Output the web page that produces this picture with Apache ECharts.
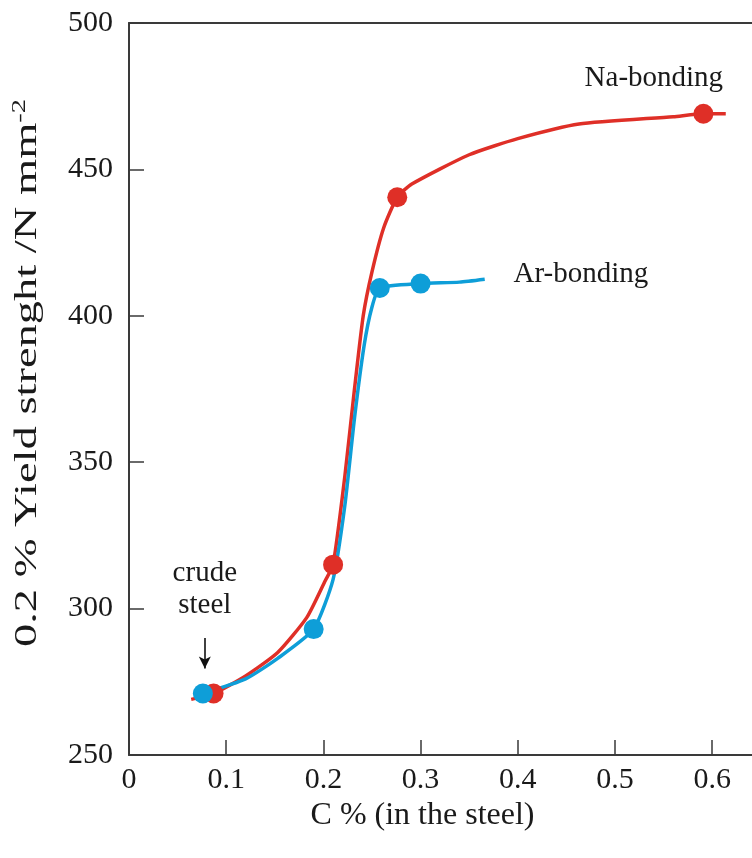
<!DOCTYPE html>
<html>
<head>
<meta charset="utf-8">
<script src="https://cdn.jsdelivr.net/npm/echarts@6/dist/echarts.min.js"></script>
<style>
  html, body { margin: 0; padding: 0; background: #fff; }
  #main { width: 752px; height: 858px; }
</style>
</head>
<body>
<div id="main"></div>
<script>
// Na-bonding curve (red)
const naCurve = [
  [0.064, 269], [0.087, 271], [0.12, 277], [0.153, 285], [0.183, 297],
  [0.202, 309.6], [0.21, 315], [0.222, 345], [0.232, 375], [0.241, 400],
  [0.25, 415], [0.262, 430], [0.276, 440.5], [0.291, 445], [0.35, 455],
  [0.40, 460.5], [0.463, 465.5], [0.56, 468], [0.591, 469], [0.614, 469]
];
const naPoints = [[0.087, 271], [0.21, 315], [0.276, 440.5], [0.591, 469]];

// Ar-bonding curve (blue)
const arCurve = [
  [0.076, 271], [0.12, 276], [0.153, 283], [0.19, 293], [0.21, 310],
  [0.222, 335], [0.232, 365], [0.242, 390], [0.25, 403], [0.258, 409.5],
  [0.30, 411], [0.34, 411.5], [0.366, 412.5]
];
const arPoints = [[0.076, 271], [0.19, 293], [0.258, 409.5], [0.30, 411]];

// annotation anchors (data coords)
const naLabelAt = [0.54, 481];
const arLabelAt = [0.465, 414];
const crudeLabelAt = [0.078, 306.5];
const crudeArrow = [[0.078, 290], [0.078, 279.5]];

const xTicks = [0, 0.1, 0.2, 0.3, 0.4, 0.5, 0.6];

const RED = "#DF2F27";
const BLUE = "#0E9ED8";
const FONT = "Liberation Serif";
const TXT = "#1a1a1a";

const myChart = echarts.init(document.getElementById("main"));

const option = {
  animation: false,
  backgroundColor: "#fff",
  grid: { left: 129, right: 0, top: 23, bottom: 103 },
  // y title is stretched along its length in the original, so draw it as graphic text
  graphic: [
    {
      type: "text",
      x: 28,
      y: 373,
      rotation: Math.PI / 2,
      scaleX: 1.5,
      style: {
        text: "0.2 % Yield strenght /N mm{sup|-2}",
        font: "31px 'Liberation Serif'",
        fill: TXT,
        align: "center",
        verticalAlign: "middle",
        rich: {
          sup: { fontFamily: FONT, fontSize: 19, fill: TXT, padding: [0, 0, 16, 0] }
        }
      }
    }
  ],
  xAxis: [
    {
      type: "value",
      min: 0,
      max: 0.641,
      interval: 0.1,
      splitLine: { show: false },
      axisLine: { lineStyle: { color: "#3a3a3a", width: 2 } },
      axisTick: {
        inside: true, length: 15, customValues: xTicks,
        lineStyle: { color: "#3a3a3a", width: 1.5 }
      },
      axisLabel: {
        fontFamily: FONT, fontSize: 30, color: TXT, margin: 10,
        customValues: xTicks
      },
      name: "C % (in the steel)",
      nameLocation: "middle",
      nameGap: 34,
      nameTextStyle: { fontFamily: FONT, fontSize: 32, color: TXT, padding: [0, 36, 0, 0] }
    },
    {
      type: "value",
      position: "top",
      min: 0,
      max: 0.641,
      axisLine: { show: true, onZero: false, lineStyle: { color: "#3a3a3a", width: 2 } },
      axisTick: { show: false },
      axisLabel: { show: false },
      splitLine: { show: false }
    }
  ],
  yAxis: {
    type: "value",
    min: 250,
    max: 500,
    interval: 50,
    splitLine: { show: false },
    axisLine: { show: true, lineStyle: { color: "#3a3a3a", width: 2 } },
    axisTick: { show: true, inside: true, length: 15, lineStyle: { color: "#3a3a3a", width: 1.5 } },
    axisLabel: { fontFamily: FONT, fontSize: 30, color: TXT, margin: 16 }
  },
  series: [
    {
      name: "Na-bonding",
      type: "line",
      data: naCurve,
      smooth: 0.2,
      symbol: "none",
      lineStyle: { color: RED, width: 3.5 },
      z: 2,
      markPoint: {
        symbol: "circle",
        symbolSize: 0,
        data: [
          {
            coord: naLabelAt,
            label: { show: true, formatter: "Na-bonding", fontFamily: FONT, fontSize: 29, color: TXT }
          }
        ]
      }
    },
    {
      name: "Ar-bonding",
      type: "line",
      data: arCurve,
      smooth: 0.2,
      symbol: "none",
      lineStyle: { color: BLUE, width: 3.5 },
      z: 3,
      markPoint: {
        symbol: "circle",
        symbolSize: 0,
        data: [
          {
            coord: arLabelAt,
            label: { show: true, formatter: "Ar-bonding", fontFamily: FONT, fontSize: 29, color: TXT }
          },
          {
            coord: crudeLabelAt,
            label: { show: true, formatter: "crude\nsteel", fontFamily: FONT, fontSize: 29, lineHeight: 32, color: TXT }
          }
        ]
      },
      markLine: {
        silent: true,
        symbol: ["none", "arrow"],
        symbolSize: [9, 12],
        label: { show: false },
        lineStyle: { color: "#111", width: 1.6, type: "solid" },
        data: [[{ coord: crudeArrow[0] }, { coord: crudeArrow[1] }]]
      }
    },
    {
      type: "scatter",
      data: naPoints,
      symbol: "circle",
      symbolSize: 20,
      itemStyle: { color: RED, opacity: 1 },
      z: 4
    },
    {
      type: "scatter",
      data: arPoints,
      symbol: "circle",
      symbolSize: 20,
      itemStyle: { color: BLUE, opacity: 1 },
      z: 5
    }
  ]
};

option && myChart.setOption(option);
</script>
</body>
</html>
